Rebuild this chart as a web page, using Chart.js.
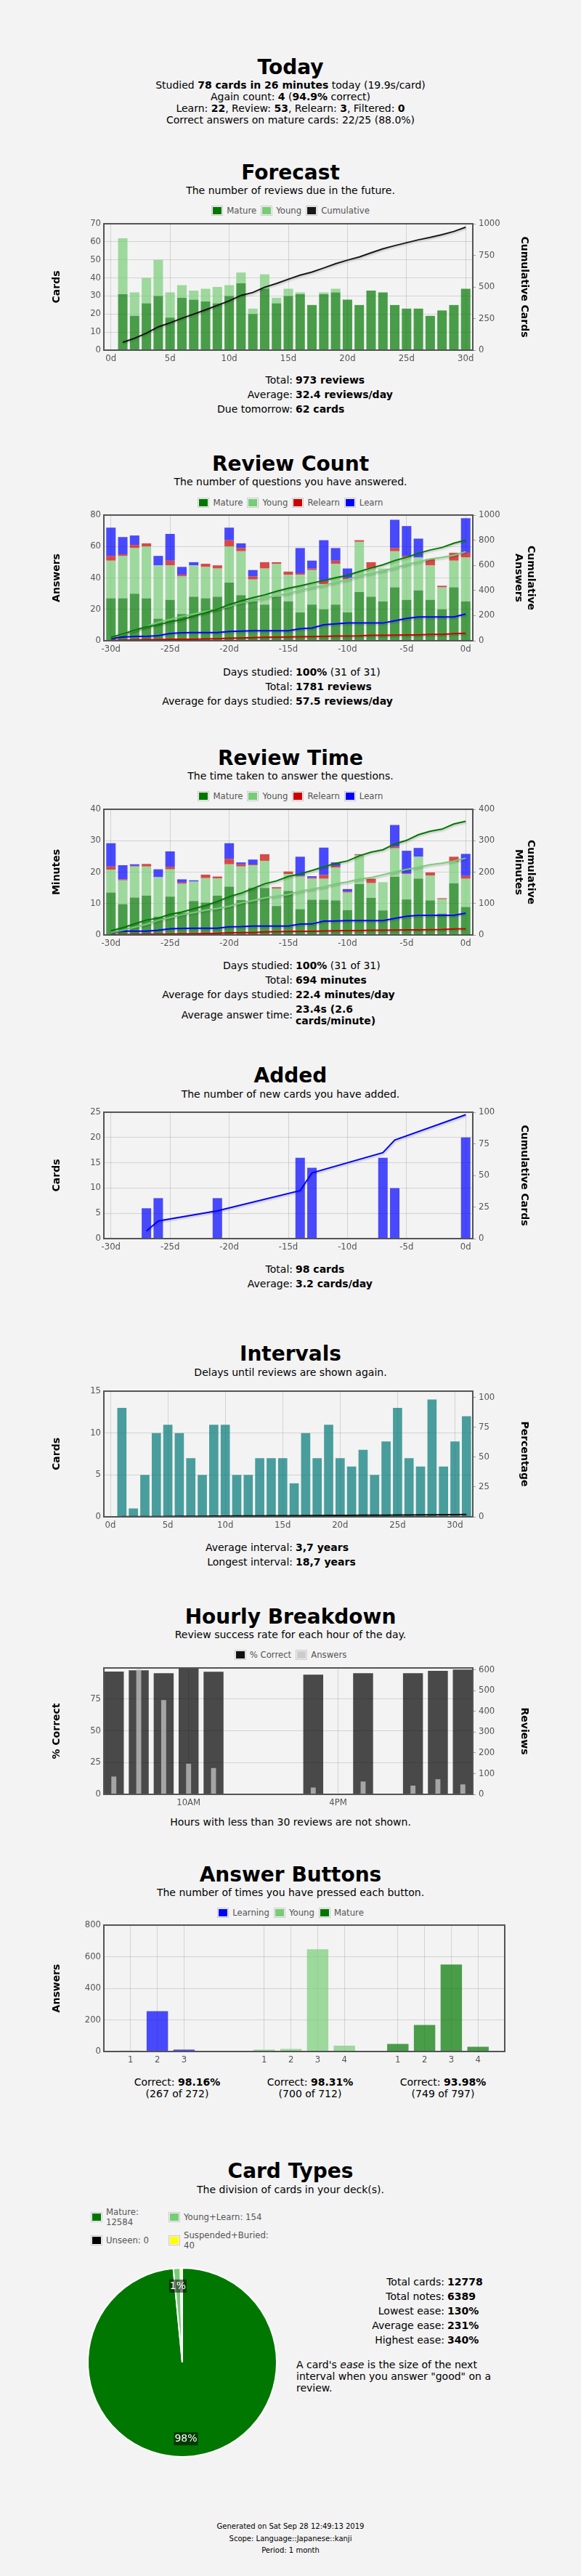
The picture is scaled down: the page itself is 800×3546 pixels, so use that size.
<!DOCTYPE html>
<html>
<head>
<meta charset="utf-8">
<title>Statistics</title>
<script src="https://cdn.jsdelivr.net/npm/chart.js@4.4.1/dist/chart.umd.min.js"></script>
<style>
  body { margin: 0; background: #f3f3f3; font-family: "DejaVu Sans", sans-serif; font-size: 14px; color: #000; }
  #page { position: relative; width: 800px; height: 3546px; overflow: hidden; }
  .h1 { position: absolute; left: 0; width: 800px; text-align: center; font-size: 28px; font-weight: bold; line-height: normal; }
  .txt { position: absolute; left: 0; width: 800px; text-align: center; line-height: 16px; color: #000; }
  .legend { position: absolute; left: 0; width: 800px; height: 16px; display: flex; justify-content: center; align-items: center; font-size: 11.7px; color: #545454; }
  .lg-item { display: flex; align-items: center; margin: 0 3px; }
  .lg-box { border: 1px solid #ccc; padding: 1px; margin-right: 5px; }
  .lg-box div { width: 12px; height: 10px; }
  canvas { position: absolute; left: 0; }
  table.stats { position: absolute; left: 200px; width: 400px; border-collapse: collapse; table-layout: fixed; }
  table.stats td { padding: 2px; vertical-align: middle; }
  table.stats td.l { width: 201px; text-align: right; }
  table.ct { position: absolute; left: 410px; border-collapse: collapse; }
  table.ct td { padding: 2px; }
  table.ct td.l { width: 200px; text-align: right; }
  .abc { position: absolute; width: 180px; text-align: center; line-height: normal; }
  .ctl { position: absolute; height: 28px; display: flex; align-items: center; font-size: 11.7px; color: #545454; line-height: 14px; }
  .ease { position: absolute; left: 408px; width: 280px; line-height: normal; }
  .foot { position: absolute; left: 0; width: 800px; text-align: center; font-size: 10px; line-height: 16.5px; }
</style>
</head>
<body>
<div id="page">

  <div class="h1" style="top:76px">Today</div>
  <div class="txt" style="top:109px">
    Studied <b>78 cards in 26 minutes</b> today (19.9s/card)<br>
    Again count: <b>4</b> (<b>94.9%</b> correct)<br>
    Learn: <b>22</b>, Review: <b>53</b>, Relearn: <b>3</b>, Filtered: <b>0</b><br>
    Correct answers on mature cards: 22/25 (88.0%)
  </div>

  <div class="h1" style="top:221px">Forecast</div>
  <div class="txt" style="top:254px">The number of reviews due in the future.</div>
  <div class="legend" style="top:282px">
    <div class="lg-item"><div class="lg-box"><div style="background:#070"></div></div>Mature</div>
    <div class="lg-item"><div class="lg-box"><div style="background:#7c7"></div></div>Young</div>
    <div class="lg-item"><div class="lg-box"><div style="background:rgba(0,0,0,0.9)"></div></div>Cumulative</div>
  </div>
  <canvas id="forecast"></canvas>
  <table class="stats" style="top:513px">
    <tr><td class="l">Total:</td><td><b>973 reviews</b></td></tr>
    <tr><td class="l">Average:</td><td><b>32.4 reviews/day</b></td></tr>
    <tr><td class="l">Due tomorrow:</td><td><b>62 cards</b></td></tr>
  </table>

  <div class="h1" style="top:622px">Review Count</div>
  <div class="txt" style="top:655px">The number of questions you have answered.</div>
  <div class="legend" style="top:684px">
    <div class="lg-item"><div class="lg-box"><div style="background:#070"></div></div>Mature</div>
    <div class="lg-item"><div class="lg-box"><div style="background:#7c7"></div></div>Young</div>
    <div class="lg-item"><div class="lg-box"><div style="background:#c00"></div></div>Relearn</div>
    <div class="lg-item"><div class="lg-box"><div style="background:#00f"></div></div>Learn</div>
  </div>
  <canvas id="reviewCount"></canvas>
  <table class="stats" style="top:915px">
    <tr><td class="l">Days studied:</td><td><b>100%</b> (31 of 31)</td></tr>
    <tr><td class="l">Total:</td><td><b>1781 reviews</b></td></tr>
    <tr><td class="l">Average for days studied:</td><td><b>57.5 reviews/day</b></td></tr>
  </table>

  <div class="h1" style="top:1027px">Review Time</div>
  <div class="txt" style="top:1060px">The time taken to answer the questions.</div>
  <div class="legend" style="top:1088px">
    <div class="lg-item"><div class="lg-box"><div style="background:#070"></div></div>Mature</div>
    <div class="lg-item"><div class="lg-box"><div style="background:#7c7"></div></div>Young</div>
    <div class="lg-item"><div class="lg-box"><div style="background:#c00"></div></div>Relearn</div>
    <div class="lg-item"><div class="lg-box"><div style="background:#00f"></div></div>Learn</div>
  </div>
  <canvas id="reviewTime"></canvas>
  <table class="stats" style="top:1319px">
    <tr><td class="l">Days studied:</td><td><b>100%</b> (31 of 31)</td></tr>
    <tr><td class="l">Total:</td><td><b>694 minutes</b></td></tr>
    <tr><td class="l">Average for days studied:</td><td><b>22.4 minutes/day</b></td></tr>
    <tr><td class="l">Average answer time:</td><td><b>23.4s (2.6 cards/minute)</b></td></tr>
  </table>

  <div class="h1" style="top:1464px">Added</div>
  <div class="txt" style="top:1498px">The number of new cards you have added.</div>
  <canvas id="added"></canvas>
  <table class="stats" style="top:1737px">
    <tr><td class="l">Total:</td><td><b>98 cards</b></td></tr>
    <tr><td class="l">Average:</td><td><b>3.2 cards/day</b></td></tr>
  </table>

  <div class="h1" style="top:1847px">Intervals</div>
  <div class="txt" style="top:1881px">Delays until reviews are shown again.</div>
  <canvas id="intervals"></canvas>
  <table class="stats" style="top:2120px">
    <tr><td class="l">Average interval:</td><td><b>3,7 years</b></td></tr>
    <tr><td class="l">Longest interval:</td><td><b>18,7 years</b></td></tr>
  </table>

  <div class="h1" style="top:2209px">Hourly Breakdown</div>
  <div class="txt" style="top:2242px">Review success rate for each hour of the day.</div>
  <div class="legend" style="top:2270px">
    <div class="lg-item"><div class="lg-box"><div style="background:#111"></div></div>% Correct</div>
    <div class="lg-item"><div class="lg-box"><div style="background:#ccc"></div></div>Answers</div>
  </div>
  <canvas id="hourly"></canvas>
  <div class="txt" style="top:2500px">Hours with less than 30 reviews are not shown.</div>

  <div class="h1" style="top:2564px">Answer Buttons</div>
  <div class="txt" style="top:2597px">The number of times you have pressed each button.</div>
  <div class="legend" style="top:2625px">
    <div class="lg-item"><div class="lg-box"><div style="background:#00f"></div></div>Learning</div>
    <div class="lg-item"><div class="lg-box"><div style="background:#7c7"></div></div>Young</div>
    <div class="lg-item"><div class="lg-box"><div style="background:#070"></div></div>Mature</div>
  </div>
  <canvas id="answers"></canvas>
  <div class="abc" style="left:154px;top:2858px">Correct: <b>98.16%</b><br>(267 of 272)</div>
  <div class="abc" style="left:337px;top:2858px">Correct: <b>98.31%</b><br>(700 of 712)</div>
  <div class="abc" style="left:520px;top:2858px">Correct: <b>93.98%</b><br>(749 of 797)</div>

  <div class="h1" style="top:2972px">Card Types</div>
  <div class="txt" style="top:3006px">The division of cards in your deck(s).</div>
  <div class="ctl" style="left:125px;top:3038px"><div class="lg-box"><div style="background:#070"></div></div><div style="width:72px">Mature: 12584</div></div>
  <div class="ctl" style="left:232px;top:3038px"><div class="lg-box"><div style="background:#7c7"></div></div><div style="width:120px">Young+Learn: 154</div></div>
  <div class="ctl" style="left:125px;top:3070px"><div class="lg-box"><div style="background:#000"></div></div><div style="width:72px">Unseen: 0</div></div>
  <div class="ctl" style="left:232px;top:3070px"><div class="lg-box"><div style="background:#ff0"></div></div><div style="width:120px">Suspended+Buried: 40</div></div>
  <canvas id="cardTypes"></canvas>
  <table class="ct" style="top:3131px">
    <tr><td class="l">Total cards:</td><td><b>12778</b></td></tr>
    <tr><td class="l">Total notes:</td><td><b>6389</b></td></tr>
    <tr><td class="l">Lowest ease:</td><td><b>130%</b></td></tr>
    <tr><td class="l">Average ease:</td><td><b>231%</b></td></tr>
    <tr><td class="l">Highest ease:</td><td><b>340%</b></td></tr>
  </table>
  <div class="ease" style="top:3247px">A card's <i>ease</i> is the size of the next interval when you answer "good" on a review.</div>

  <div class="foot" style="top:3470px">
    Generated on Sat Sep 28 12:49:13 2019<br>
    Scope: Language::Japanese::kanji<br>
    Period: 1 month
  </div>
</div>

<script>
// Forecast: days ahead
const fcDays = [1,2,3,4,5,6,7,8,9,10,11,12,13,14,15,16,17,18,19,20,21,22,23,24,25,26,27,28,29,30];
const fcMature = [31,19,26,30,18,29,28,27,26,30,37,20,34,26,30,31,25,31,32,28,25,33,32,25,23,23,19,22,25,34];
const fcYoung = [31,13,14,20,14,7,5,7,9,6,6,3,8,3,4,1,0,1,2,0,0,0,0,0,0,0,0,0,0,0];

// Review count / time: last 31 days
const pastDays = [-30,-29,-28,-27,-26,-25,-24,-23,-22,-21,-20,-19,-18,-17,-16,-15,-14,-13,-12,-11,-10,-9,-8,-7,-6,-5,-4,-3,-2,-1,0];
const rcMature = [27,27,30,27,14,26,17,28,27,28,37,29,25,23,28,25,18,23,20,23,18,31,28,25,34,26,32,26,20,34,25];
const rcYoung = [24,27,29,33,34,22,24,20,20,18,23,28,14,23,21,17,24,22,16,26,21,32,18,21,23,27,21,22,14,17,28];
const rcRelearn = [3,1,2,2,0,3,1,0,2,2,4,2,2,4,1,2,1,1,2,2,1,1,4,0,2,1,0,4,1,5,3];
const rcLearn = [18,11,6,0,6,17,5,2,0,0,8,3,4,0,0,0,16,5,26,8,6,0,0,0,18,19,12,0,0,0,22];

const rtMature = [13.5,9.8,11.9,12.5,5.8,12.2,7.0,10.8,10.3,12.5,15.4,11.1,15.0,15.0,9.2,14.0,8.2,11.2,11.2,11.0,7.9,16.2,11.8,7.8,18.5,11.3,17.9,11.0,6.8,16.4,8.9];
const rtYoung = [7.3,7.6,9.9,9.3,12.6,8.7,9.3,6.2,7.8,5.5,7.1,10.7,7.2,8.6,5.6,5.4,10.4,6.7,6.7,10.5,5.6,9.2,4.7,9.0,9.1,8.1,7.0,7.9,4.6,6.9,9.0];
const rtRelearn = [1.0,0.3,0.2,0.8,0,0.8,0.4,0,1.1,0.6,1.7,0.7,0.2,2.1,0.4,0.8,0.2,0.3,1.2,0.5,0.3,0.3,1.4,0,0.5,0.2,0,1.0,0.3,1.6,0.9];
const rtLearn = [7.4,4.5,0.5,0,2.5,4.9,1.0,0.4,0,0,5.0,0.6,1.6,0,0,0,6.1,0.5,8.7,1.1,0.8,0,0,0,6.9,7.2,2.8,0,0,0,7.0];

// Added
const addDays = [-27,-26,-21,-14,-13,-7,-6,0];
const addCards = [6,8,8,16,14,16,10,20];

// Intervals
const ivDays = [1,2,3,4,5,6,7,8,9,10,11,12,13,14,15,16,17,18,19,20,21,22,23,24,25,26,27,28,29,30,31];
const ivCards = [13,1,5,10,11,10,7,5,11,11,5,5,7,7,7,4,10,7,11,7,6,8,5,9,13,7,6,14,6,9,12];

// Hourly breakdown
const hrHours = [7,8,9,10,11,15,17,19,20,21];
const hrCorrect = [96.6,97.5,95.2,99.4,96.4,94.1,95.2,95.2,97.1,98.1];
const hrAnswers = [86,605,455,148,127,33,62,42,73,48];
const hrTickHours = [0,6,10,16,22];
const hrTickLabels = ['12AM','6AM','10AM','4PM','10PM'];

// Answer buttons (x positions: learning 1-3, young 6-9, mature 11-14)
const abLearnX = [1,2,3];
const abLearn = [5,255,12];
const abYoungX = [6,7,8,9];
const abYoung = [12,16,647,37];
const abMatureX = [11,12,13,14];
const abMature = [48,168,551,30];

// Card types
const ctLabels = ['Mature','Young+Learn','Unseen','Suspended+Buried'];
const ctCounts = [12584,154,0,40];
const ctColors = ['#070','#7c7','#000','#ff0'];

Chart.defaults.font.family = "'DejaVu Sans', sans-serif";
Chart.defaults.animation = false;

const TICK = '#545454';
const GRID = 'rgba(0,0,0,0.13)';
const tickFont = { size: 11.7 };
const titleFont = { size: 14, weight: 'bold' };

function runningSum(arr) {
  let s = 0;
  return arr.map(v => (s += v));
}

const pts = (xs, ys) => xs.map((x, i) => ({ x: x, y: ys[i] }));

function bar(label, xs, ys, color, extra) {
  return Object.assign({
    type: 'bar', label: label, data: pts(xs, ys), backgroundColor: color,
    borderWidth: 0, barPercentage: 0.8, categoryPercentage: 1, order: 1, yAxisID: 'y'
  }, extra || {});
}

function line(label, xs, ys, color) {
  return {
    type: 'line', label: label, data: pts(xs, ys), borderColor: color, borderWidth: 2,
    pointRadius: 0, tension: 0, fill: false, order: 0, yAxisID: 'y1'
  };
}

// plain multiples of the step, never the odd axis max
function stepTicks(max, step) {
  return s => {
    const t = [];
    for (let v = 0; v <= max + 1e-9; v += step) t.push({ value: v });
    s.ticks = t;
  };
}

function xAxis(min, max, step, fmt, fixedTicks) {
  const ax = {
    type: 'linear', min: min, max: max, offset: false, stacked: true,
    grid: { color: GRID, drawTicks: false, offset: false },
    border: { display: false },
    ticks: { stepSize: step, includeBounds: false, autoSkip: false, maxRotation: 0, padding: 5, color: TICK, font: tickFont, callback: fmt },
    afterFit: s => { s.height = 30; }
  };
  if (fixedTicks) {
    ax.afterBuildTicks = s => { s.ticks = fixedTicks(s).map(v => ({ value: v })); };
  }
  return ax;
}

function yLeft(max, step, title, stacked) {
  return {
    position: 'left', min: 0, max: max, stacked: !!stacked,
    grid: { color: GRID, drawTicks: false },
    border: { display: false },
    ticks: { padding: 4, color: TICK, font: tickFont, callback: v => String(v) },
    afterBuildTicks: stepTicks(max, step),
    title: { display: true, text: title, color: '#000', font: titleFont, padding: { top: 70, bottom: 0 } },
    afterFit: s => { s.width = 143; }
  };
}

function yRight(max, step, title) {
  return {
    position: 'right', min: 0, max: max,
    grid: { drawOnChartArea: false, drawTicks: true, tickLength: 4, tickColor: 'rgba(0,0,0,0.35)' },
    border: { display: false },
    ticks: { padding: 4, color: TICK, font: tickFont, callback: v => String(v) },
    afterBuildTicks: stepTicks(max, step),
    title: { display: true, text: title, color: '#000', font: titleFont, padding: { top: Array.isArray(title) ? 61 : 70, bottom: 0 } },
    afterFit: s => { s.width = 149; }
  };
}

// frame around the plot area, like the original graphs
const plotBorder = {
  id: 'plotBorder',
  afterDatasetsDraw(chart) {
    const { ctx, chartArea: a } = chart;
    ctx.save();
    ctx.strokeStyle = '#545454';
    ctx.lineWidth = 2;
    ctx.strokeRect(a.left, a.top, a.right - a.left, a.bottom - a.top);
    ctx.restore();
  }
};

// soft shadow under the cumulative lines
const lineShadow = {
  id: 'lineShadow',
  beforeDatasetDraw(chart, args) {
    if (args.meta.type !== 'line') return;
    const ctx = chart.ctx;
    ctx.save();
    ctx.shadowColor = 'rgba(0,0,0,0.18)';
    ctx.shadowBlur = 2;
    ctx.shadowOffsetX = 1;
    ctx.shadowOffsetY = 2;
  },
  afterDatasetDraw(chart, args) {
    if (args.meta.type === 'line') chart.ctx.restore();
  }
};

function makeChart(id, plotTop, plotBottom, datasets, scales, padRight) {
  const cv = document.getElementById(id);
  cv.width = 800;
  cv.height = plotBottom - plotTop + 40;
  cv.style.top = (plotTop - 10) + 'px';
  return new Chart(cv, {
    type: 'bar',
    data: { datasets: datasets },
    options: {
      responsive: false, animation: false, events: [],
      layout: { padding: { top: 10, right: padRight || 0, bottom: 0, left: 0 } },
      plugins: { legend: { display: false }, tooltip: { enabled: false } },
      scales: scales
    },
    plugins: [lineShadow, plotBorder]
  });
}

const dayFmt = v => v + 'd';

// Forecast
makeChart('forecast', 307, 482, [
  bar('Mature', fcDays, fcMature, 'rgba(0,119,0,0.7)'),
  bar('Young', fcDays, fcYoung, 'rgba(119,204,119,0.7)'),
  line('Cumulative', fcDays, runningSum(fcDays.map((d, i) => fcMature[i] + fcYoung[i])), 'rgba(0,0,0,0.9)')
], {
  x: xAxis(-0.6, 30.6, 5, dayFmt),
  y: yLeft(70, 10, 'Cards', true),
  y1: yRight(1000, 250, 'Cumulative Cards')
});

// Review Count
makeChart('reviewCount', 708, 882, [
  bar('Mature', pastDays, rcMature, 'rgba(0,119,0,0.7)'),
  bar('Young', pastDays, rcYoung, 'rgba(119,204,119,0.7)'),
  bar('Relearn', pastDays, rcRelearn, 'rgba(204,0,0,0.7)'),
  bar('Learn', pastDays, rcLearn, 'rgba(0,0,255,0.7)'),
  line('Mature', pastDays, runningSum(rcMature), '#070'),
  line('Young', pastDays, runningSum(rcYoung), '#7c7'),
  line('Relearn', pastDays, runningSum(rcRelearn), '#c00'),
  line('Learn', pastDays, runningSum(rcLearn), '#00f')
], {
  x: xAxis(-30.6, 0.6, 5, dayFmt),
  y: yLeft(80, 20, 'Answers', true),
  y1: yRight(1000, 200, ['Cumulative', 'Answers'])
});

// Review Time
makeChart('reviewTime', 1113, 1287, [
  bar('Mature', pastDays, rtMature, 'rgba(0,119,0,0.7)'),
  bar('Young', pastDays, rtYoung, 'rgba(119,204,119,0.7)'),
  bar('Relearn', pastDays, rtRelearn, 'rgba(204,0,0,0.7)'),
  bar('Learn', pastDays, rtLearn, 'rgba(0,0,255,0.7)'),
  line('Mature', pastDays, runningSum(rtMature), '#070'),
  line('Young', pastDays, runningSum(rtYoung), '#7c7'),
  line('Relearn', pastDays, runningSum(rtRelearn), '#c00'),
  line('Learn', pastDays, runningSum(rtLearn), '#00f')
], {
  x: xAxis(-30.6, 0.6, 5, dayFmt),
  y: yLeft(40, 10, 'Minutes', true),
  y1: yRight(400, 100, ['Cumulative', 'Minutes'])
});

// Added
makeChart('added', 1530, 1705, [
  bar('Added', addDays, addCards, 'rgba(0,0,255,0.7)'),
  line('Cumulative', addDays, runningSum(addCards), '#00f')
], {
  x: xAxis(-30.6, 0.6, 5, dayFmt),
  y: yLeft(25, 5, 'Cards'),
  y1: yRight(100, 25, 'Cumulative Cards')
});

// Intervals
const ctTotal = ctCounts.reduce((a, b) => a + b, 0);
makeChart('intervals', 1914, 2088, [
  bar('Cards', ivDays, ivCards, 'rgba(0,119,119,0.7)'),
  line('Percentage', ivDays, runningSum(ivCards).map(v => v / ctTotal * 100), 'rgba(0,0,0,0.9)')
], {
  x: xAxis(-0.57, 31.55, 5, dayFmt),
  y: yLeft(15, 5, 'Cards'),
  y1: yRight(105.3, 25, 'Percentage')
});

// Hourly Breakdown
makeChart('hourly', 2295, 2470, [
  bar('Answers', hrHours, hrAnswers, 'rgba(204,204,204,0.7)', { barPercentage: 0.2, order: 0, yAxisID: 'y1' }),
  bar('% Correct', hrHours, hrCorrect, 'rgba(0,0,0,0.7)', { order: 1 })
], {
  x: xAxis(6.6, 21.4, 1, v => hrTickLabels[hrTickHours.indexOf(v)],
    s => hrTickHours.filter(h => h >= s.min && h <= s.max)),
  y: yLeft(99.4, 25, '% Correct'),
  y1: yRight(610, 100, 'Reviews')
});

// Answer Buttons
makeChart('answers', 2649, 2824, [
  bar('Learning', abLearnX, abLearn, 'rgba(0,0,255,0.7)'),
  bar('Young', abYoungX, abYoung, 'rgba(119,204,119,0.7)'),
  bar('Mature', abMatureX, abMature, 'rgba(0,119,0,0.7)')
], {
  x: xAxis(0, 15, 1, v => ((v - 1) % 5) + 1, () => abLearnX.concat(abYoungX, abMatureX)),
  y: yLeft(800, 200, 'Answers')
}, 105);

// Card Types pie
const pieLabels = {
  id: 'pieLabels',
  afterDatasetsDraw(chart) {
    const ctx = chart.ctx;
    const data = chart.data.datasets[0].data;
    const total = data.reduce((a, b) => a + b, 0);
    chart.getDatasetMeta(0).data.forEach((arc, i) => {
      const frac = data[i] / total;
      if (frac < 0.01) return;
      const p = arc.getProps(['x', 'y', 'startAngle', 'endAngle', 'outerRadius'], true);
      const mid = (p.startAngle + p.endAngle) / 2;
      const r = p.outerRadius * 0.81;
      const x = p.x + Math.cos(mid) * r;
      const y = p.y + Math.sin(mid) * r;
      const txt = Math.round(frac * 100) + '%';
      ctx.save();
      ctx.font = "14px 'DejaVu Sans'";
      const w = ctx.measureText(txt).width;
      ctx.fillStyle = 'rgba(0,0,0,0.5)';
      ctx.fillRect(x - w / 2 - 1, y - 9, w + 2, 18);
      ctx.fillStyle = '#fff';
      ctx.textAlign = 'center';
      ctx.textBaseline = 'middle';
      ctx.fillText(txt, x, y);
      ctx.restore();
    });
  }
};

const pieCv = document.getElementById('cardTypes');
pieCv.width = 270;
pieCv.height = 270;
pieCv.style.left = '116px';
pieCv.style.top = '3117px';
new Chart(pieCv, {
  type: 'pie',
  data: {
    labels: ctLabels,
    datasets: [{ data: ctCounts, backgroundColor: ctColors, borderColor: '#fff', borderWidth: 2 }]
  },
  options: {
    responsive: false, animation: false, events: [],
    layout: { padding: 4 },
    plugins: { legend: { display: false }, tooltip: { enabled: false } }
  },
  plugins: [pieLabels]
});
</script>
</body>
</html>
